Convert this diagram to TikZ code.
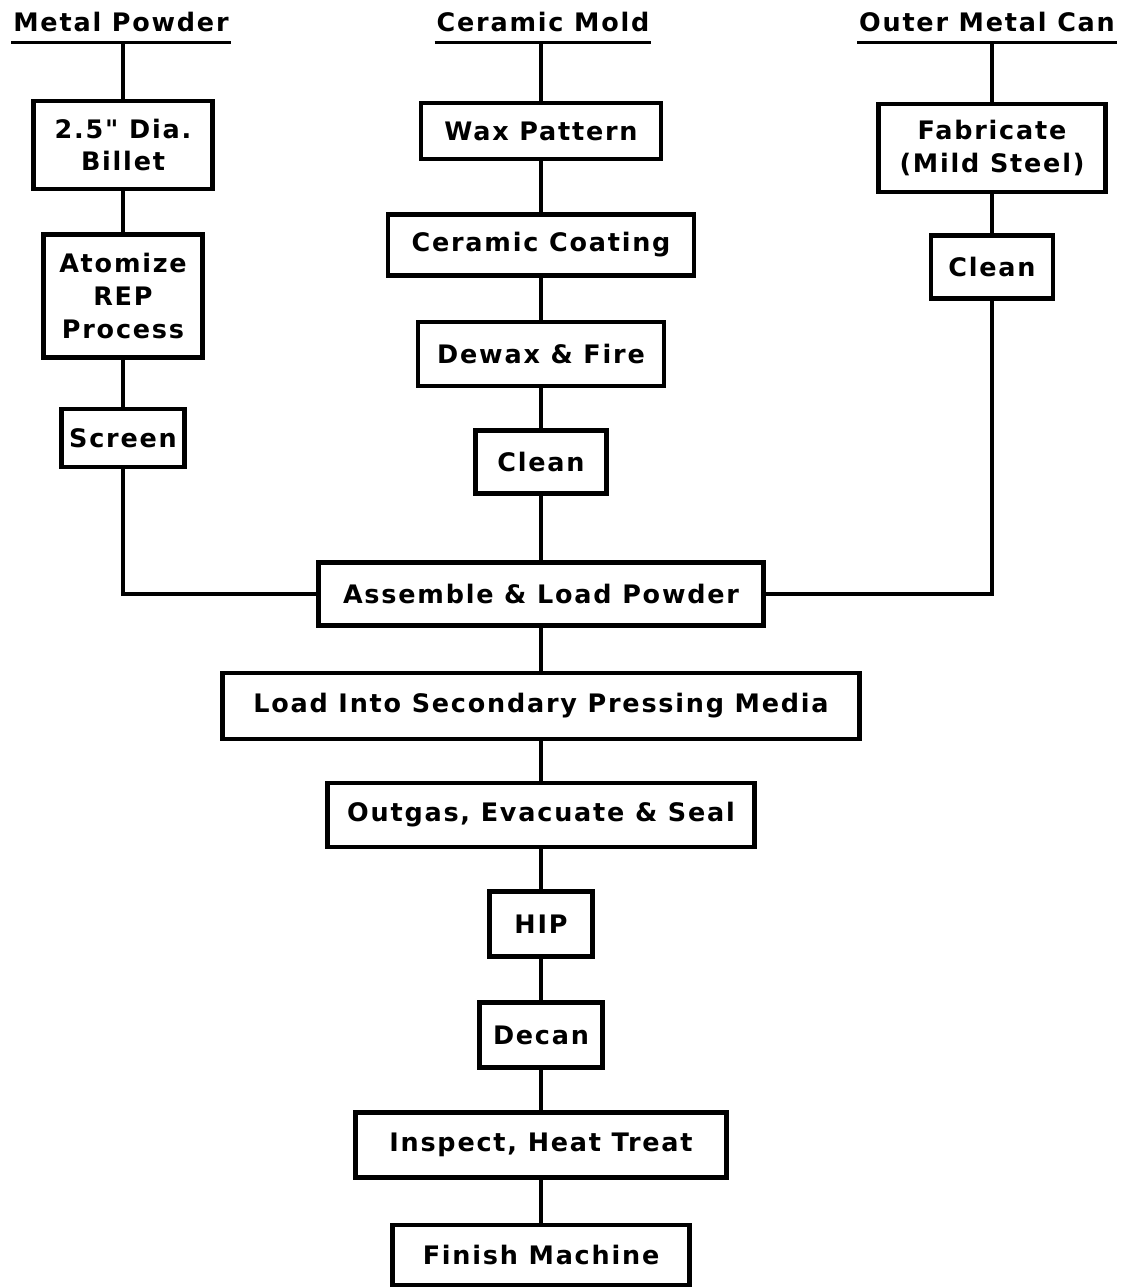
\documentclass[tikz,border=0pt]{standalone}
\usepackage{fontspec}
\newfontfamily\flowfont[LetterSpace=7]{DejaVu Sans}
\usepackage{tikz}

\begin{document}
\begin{tikzpicture}[x=0.02cm, y=-0.02cm,
        box/.style={draw, line width=2.5pt, inner sep=0pt, align=center,
            font=\flowfont\bfseries\fontsize{14.5}{18.5}\selectfont},
        head/.style={anchor=base, inner xsep=1pt, inner ysep=0pt, text depth=5.6pt,
            font=\flowfont\bfseries\fontsize{14.5}{18.5}\selectfont},
        link/.style={line width=1.9pt}]
    \useasboundingbox (0, 0) rectangle (1121, 1287);

    % heads of the three columns
    \node[head] (powder) at (121, 32) {Metal Powder};
    \node[head] (mold) at (543, 32) {Ceramic Mold};
    \node[head] (can) at (987, 32) {Outer Metal Can};
    \draw[link] (powder.south west) -- (powder.south east);
    \draw[link] (mold.south west) -- (mold.south east);
    \draw[link] (can.south west) -- (can.south east);

    % metal powder
    \node[box, minimum width=3.58cm, minimum height=1.76cm] (billet) at (123, 145) {2.5" Dia.\\Billet};
    \node[box, minimum width=3.18cm, minimum height=2.46cm] (atomize) at (123, 296) {Atomize\\REP\\Process};
    \node[box, minimum width=2.46cm, minimum height=1.16cm] (screen) at (123, 438) {Screen};

    % ceramic mold
    \node[box, minimum width=4.8cm, minimum height=1.12cm] (wax) at (541, 131) {Wax Pattern};
    \node[box, minimum width=6.12cm, minimum height=1.22cm] (coat) at (541, 245) {Ceramic Coating};
    \node[box, minimum width=4.92cm, minimum height=1.28cm] (dewax) at (541, 354) {Dewax \& Fire};
    \node[box, minimum width=2.62cm, minimum height=1.26cm] (clean) at (541, 462) {Clean};

    % outer can
    \node[box, minimum width=4.54cm, minimum height=1.76cm] (fab) at (992, 148) {Fabricate\\(Mild Steel)};
    \node[box, minimum width=2.44cm, minimum height=1.26cm] (cleancan) at (992, 267) {Clean};

    % common line
    \node[box, minimum width=8.9cm, minimum height=1.26cm] (assemble) at (541, 594) {Assemble \& Load Powder};
    \node[box, minimum width=12.74cm, minimum height=1.32cm] (load) at (541, 706) {Load Into Secondary Pressing Media};
    \node[box, minimum width=8.54cm, minimum height=1.28cm] (outgas) at (541, 815) {Outgas, Evacuate \& Seal};
    \node[box, minimum width=2.06cm, minimum height=1.3cm] (hip) at (541, 924) {HIP};
    \node[box, minimum width=2.46cm, minimum height=1.3cm] (decan) at (541, 1035) {Decan};
    \node[box, minimum width=7.42cm, minimum height=1.3cm] (inspect) at (541, 1145) {Inspect, Heat Treat};
    \node[box, minimum width=5.94cm, minimum height=1.2cm] (finish) at (541, 1255) {Finish Machine};

    \draw[link] (powder.south -| billet) -- (billet) -- (atomize) -- (screen) |- (assemble);
    \draw[link] (mold.south -| wax) -- (wax) -- (coat) -- (dewax) -- (clean) -- (assemble)
        -- (load) -- (outgas) -- (hip) -- (decan) -- (inspect) -- (finish);
    \draw[link] (can.south -| fab) -- (fab) -- (cleancan) |- (assemble);
\end{tikzpicture}
\end{document}
